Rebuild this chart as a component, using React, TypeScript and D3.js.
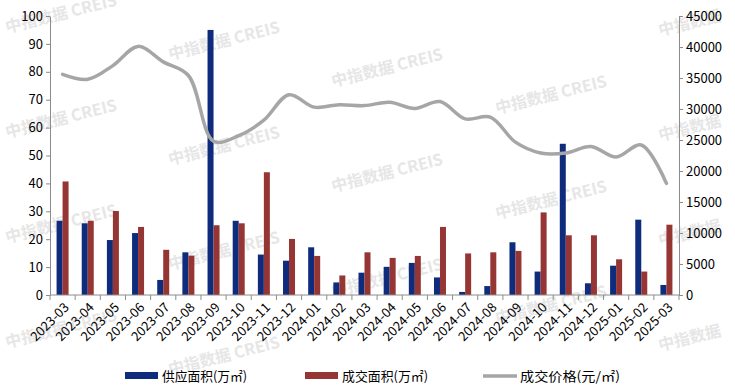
import React, { useEffect, useRef } from 'react';
import * as d3 from 'd3';

const months = [
  '2023-03', '2023-04', '2023-05', '2023-06', '2023-07', '2023-08', '2023-09', '2023-10',
  '2023-11', '2023-12', '2024-01', '2024-02', '2024-03', '2024-04', '2024-05', '2024-06',
  '2024-07', '2024-08', '2024-09', '2024-10', '2024-11', '2024-12', '2025-01', '2025-02', '2025-03'
];
const supplyArea = [
  26.6, 25.7, 19.7, 22.2, 5.4, 15.3, 95, 26.6, 14.5, 12.3, 17.1, 4.5, 8, 10.1, 11.5, 6.3,
  1.1, 3.2, 18.9, 8.4, 54.2, 4.2, 10.5, 27, 3.6
];
const dealArea = [
  40.7, 26.6, 30.1, 24.4, 16.2, 14.1, 25, 25.7, 44, 20.1, 14, 7, 15.3, 13.3, 14, 24.4,
  14.9, 15.3, 15.8, 29.6, 21.4, 21.4, 12.8, 8.4, 25.2
];
const dealPrice = [
  35600, 34800, 37000, 40100, 37600, 35400, 24800, 25700, 28200, 32300, 30300, 30700, 30550,
  31100, 30100, 31200, 28400, 28700, 24650, 22900, 22900, 23950, 22250, 24200, 18000
];
const leftTicks = [0, 10, 20, 30, 40, 50, 60, 70, 80, 90, 100];
const rightTicks = [0, 5000, 10000, 15000, 20000, 25000, 30000, 35000, 40000, 45000];
const seriesNames = ['供应面积(万㎡)', '成交面积(万㎡)', '成交价格(元/㎡)'];

const W = 735;
const H = 391;
const FONT = '"Noto Sans CJK SC", "Noto Sans", sans-serif';
const BLUE = '#0f2c7c';
const RED = '#963634';
const GRAY = '#a6a6a6';

const App: React.FC = () => {
  const svgRef = useRef<SVGSVGElement>(null);

  useEffect(() => {
    if (!svgRef.current) return;
    const svg = d3.select(svgRef.current);
    svg.selectAll('*').remove();

    const margin = { top: 16, right: 56, bottom: 96, left: 50 };
    const plotW = W - margin.left - margin.right;
    const plotH = H - margin.top - margin.bottom;

    const x = d3.scaleBand().domain(months).range([0, plotW]).padding(0);
    const yL = d3.scaleLinear().domain([0, 100]).range([plotH, 0]);
    const yR = d3.scaleLinear().domain([0, 45000]).range([plotH, 0]);

    // watermarks (tiled, each column shifted down a bit)
    const wm = svg.append('g').attr('fill', '#e6e6e6').style('font-family', FONT)
      .style('font-size', '16px').style('font-weight', '600');
    const cols = [7, 170, 333, 497, 660];
    cols.forEach((cx, ci) => {
      const off = (33 + 27 * ci) % 105;
      for (let cy = off; cy < H; cy += 105) {
        if (cy < 30 || cy > 385) continue;
        wm.append('text')
          .attr('transform', `translate(${cx}, ${cy}) rotate(-14)`)
          .text(cx > 600 ? '中指数据' : '中指数据  CREIS');
      }
    });

    const g = svg.append('g').attr('transform', `translate(${margin.left}, ${margin.top})`);

    // bars
    const bw = 6;
    months.forEach((m, i) => {
      const cx = (x(m) || 0) + x.bandwidth() / 2;
      g.append('rect')
        .attr('x', cx - bw)
        .attr('y', yL(supplyArea[i]))
        .attr('width', bw)
        .attr('height', plotH - yL(supplyArea[i]))
        .attr('fill', BLUE);
      g.append('rect')
        .attr('x', cx)
        .attr('y', yL(dealArea[i]))
        .attr('width', bw)
        .attr('height', plotH - yL(dealArea[i]))
        .attr('fill', RED);
    });

    // price line
    const line = d3.line<number>()
      .x((_, i) => (x(months[i]) || 0) + x.bandwidth() / 2)
      .y(d => yR(d))
      .curve(d3.curveCatmullRom.alpha(0.5));
    g.append('path')
      .datum(dealPrice)
      .attr('d', line)
      .attr('fill', 'none')
      .attr('stroke', GRAY)
      .attr('stroke-width', 3.5)
      .attr('stroke-linecap', 'round');

    // left axis
    const axL = g.append('g')
      .call(d3.axisLeft(yL).tickValues(leftTicks).tickSize(4).tickSizeOuter(0));
    axL.select('.domain').attr('stroke', '#8c8c8c');
    axL.selectAll('line').attr('stroke', '#8c8c8c');
    axL.selectAll('text').style('font-family', FONT).style('font-size', '13px').attr('fill', '#000');

    // right axis
    const axR = g.append('g').attr('transform', `translate(${plotW}, 0)`)
      .call(d3.axisRight(yR).tickValues(rightTicks).tickSize(4).tickSizeOuter(0).tickFormat(d3.format('d')));
    axR.select('.domain').attr('stroke', '#8c8c8c');
    axR.selectAll('line').attr('stroke', '#8c8c8c');
    axR.selectAll('text').style('font-family', FONT).style('font-size', '13px').attr('fill', '#000');

    // bottom axis
    const axB = g.append('g').attr('transform', `translate(0, ${plotH})`);
    axB.append('line').attr('x1', 0).attr('x2', plotW).attr('stroke', '#8c8c8c');
    months.forEach((m, i) => {
      const bx = x(m) || 0;
      axB.append('line').attr('x1', bx).attr('x2', bx).attr('y1', 0).attr('y2', 5).attr('stroke', '#8c8c8c');
      if (i === months.length - 1) {
        axB.append('line').attr('x1', bx + x.bandwidth()).attr('x2', bx + x.bandwidth())
          .attr('y1', 0).attr('y2', 5).attr('stroke', '#8c8c8c');
      }
      axB.append('text')
        .attr('transform', `translate(${bx + x.bandwidth() / 2 + 4}, 10) rotate(-45)`)
        .attr('text-anchor', 'end')
        .attr('dy', '0.35em')
        .style('font-family', FONT)
        .style('font-size', '13px')
        .attr('fill', '#000')
        .text(m);
    });

    // legend
    const lg = svg.append('g').style('font-family', FONT).style('font-size', '13px');
    const items = [
      { x: 125, color: BLUE, kind: 'rect', tl: 85 },
      { x: 305, color: RED, kind: 'rect', tl: 86 },
      { x: 483, color: GRAY, kind: 'line', tl: 100 }
    ];
    items.forEach((it, i) => {
      if (it.kind === 'rect') {
        lg.append('rect').attr('x', it.x).attr('y', 372).attr('width', 33).attr('height', 7).attr('fill', it.color);
      } else {
        lg.append('line').attr('x1', it.x).attr('x2', it.x + 34).attr('y1', 376).attr('y2', 376)
          .attr('stroke', it.color).attr('stroke-width', 3.5);
      }
      lg.append('text').attr('x', it.x + 37).attr('y', 376).attr('dy', '0.35em').attr('fill', '#000')
        .attr('textLength', it.tl).attr('lengthAdjust', 'spacingAndGlyphs')
        .text(seriesNames[i]);
    });
  }, []);

  return (
    <div style={{ position: 'fixed', left: 0, top: 0, width: W, height: H, background: '#fff' }}>
      <svg ref={svgRef} width={W} height={H} viewBox={`0 0 ${W} ${H}`} />
    </div>
  );
};

export default App;
